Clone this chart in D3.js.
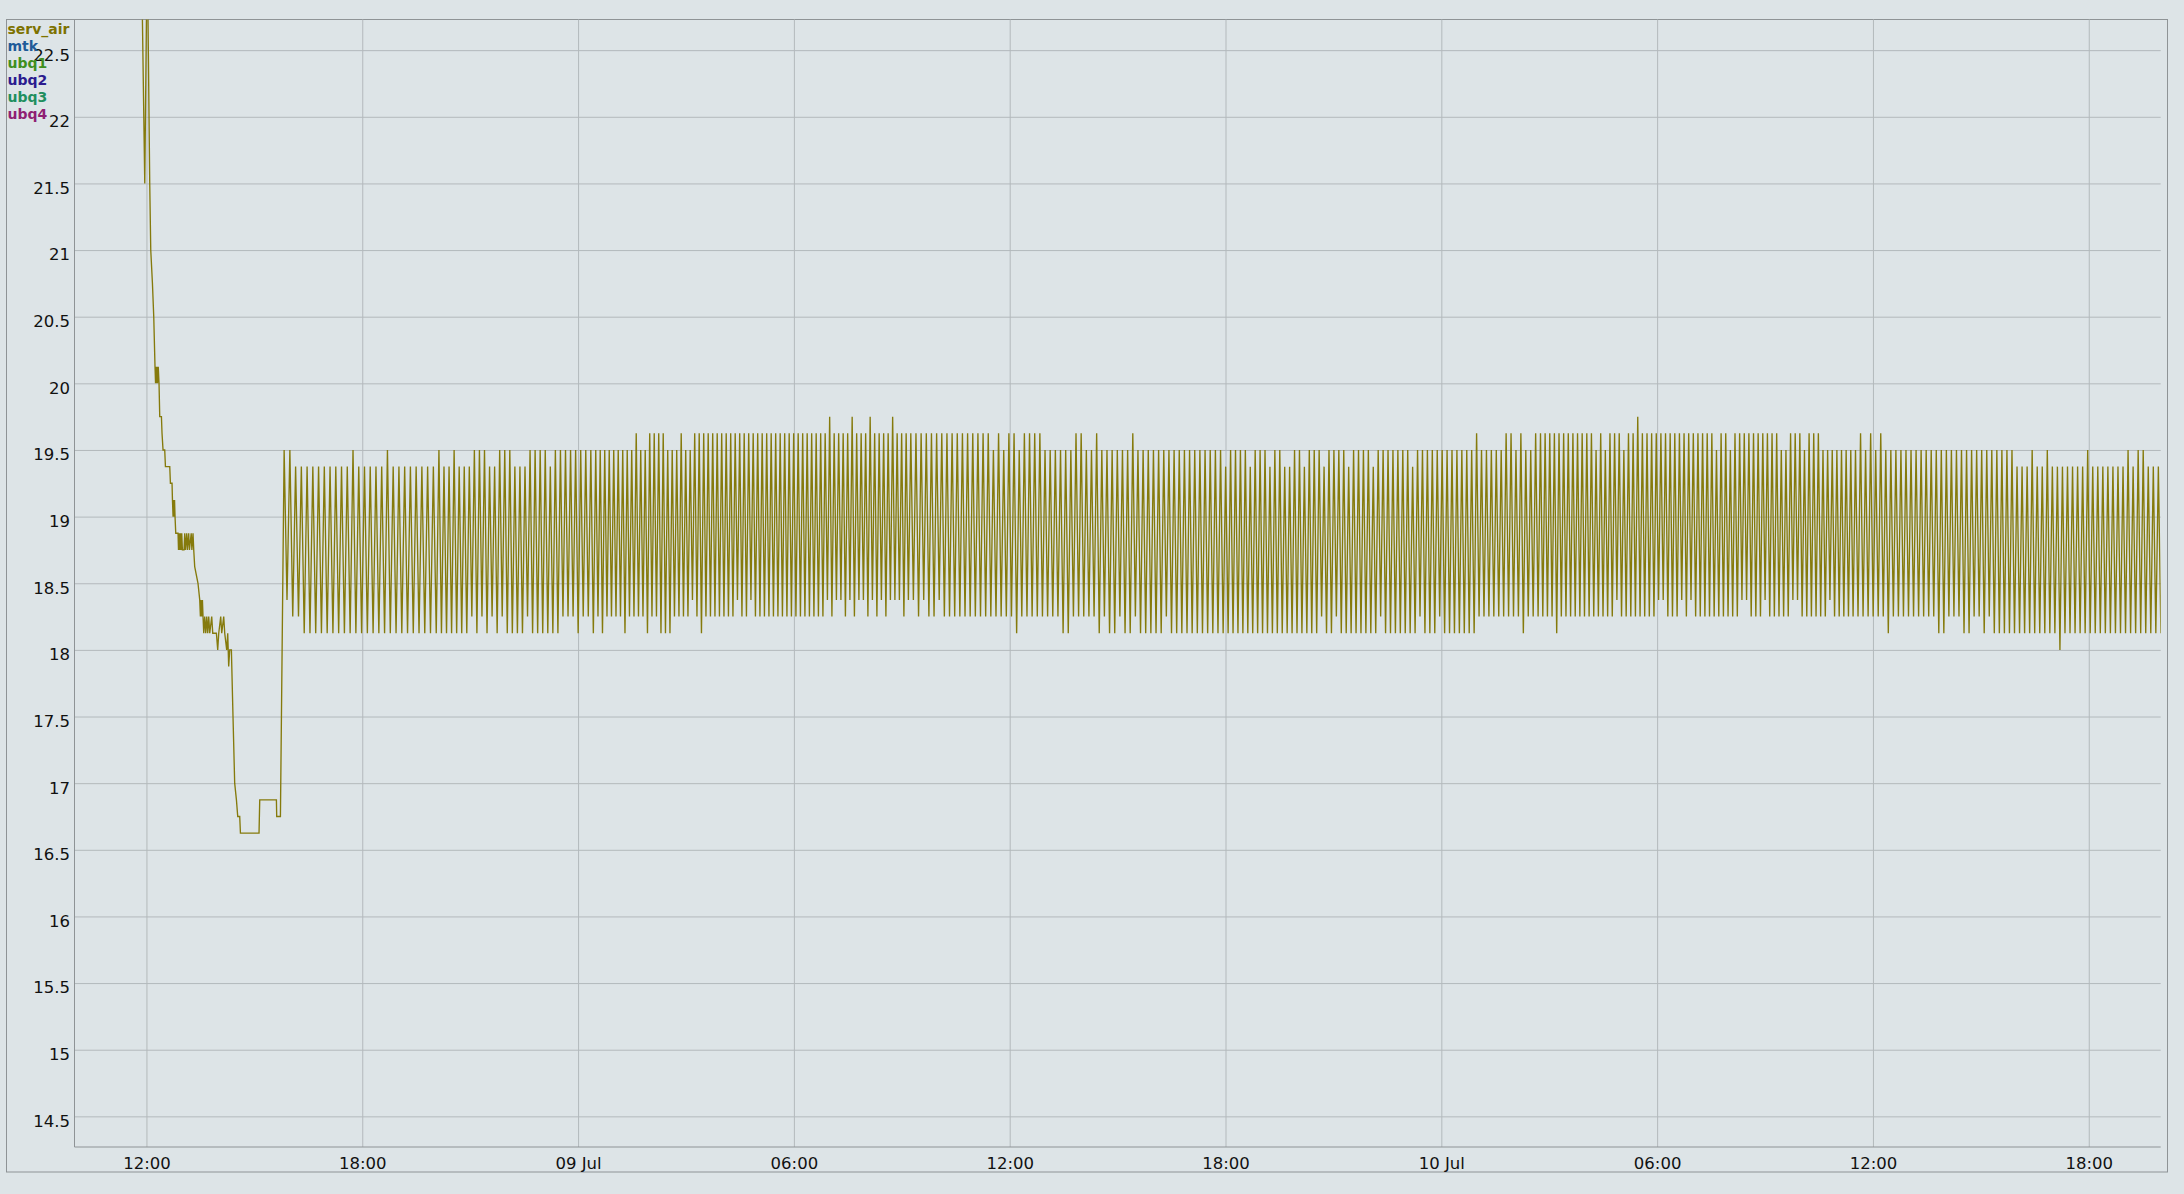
<!DOCTYPE html>
<html><head><meta charset="utf-8">
<script src="https://cdn.jsdelivr.net/npm/d3@7"></script>
<style>
html,body{margin:0;padding:0;background:#dde4e7;}
svg{display:block;}
text{font-family:"DejaVu Sans",Verdana,sans-serif;}
</style></head><body>
<svg id="chart" width="2184" height="1194"></svg>
<script>
// ---------- DATA ----------
const legendNames  = ["serv_air","mtk","ubq1","ubq2","ubq3","ubq4"];
const legendColors = ["#7d7200","#1f5b99","#3f8f1f","#2b1b8f","#1f8f5f","#8f1f73"];
const yTickValues  = [14.5,15,15.5,16,16.5,17,17.5,18,18.5,19,19.5,20,20.5,21,21.5,22,22.5];
const startDay = [2013, 6, 8];           // 8 Jul
const domainStartMin = 600;               // 08 Jul 10:00
const domainEndMin   = 4080;              // 10 Jul 20:00

// initial cool-down: [minutes after 08 Jul 00:00, °C]
const initPoints = [
 [710.5,23.6],[717.2,21.5],[721.3,23.3],[725.5,21.5],[727.2,21.0],[730.0,20.75],[732.2,20.5],
 [734.3,20.125],[735.2,20.0],[736.0,20.125],[736.8,20.0],[737.7,20.125],[738.5,20.0],[739.7,20.125],
 [741.0,20.0],[742.2,19.75],[745.0,19.75],[746.0,19.625],[747.7,19.5],[750.5,19.5],[751.7,19.375],
 [758.9,19.375],[760.0,19.25],[762.7,19.25],[763.4,19.125],[764.4,19.0],[765.2,19.125],[766.0,19.0],
 [766.9,19.125],[767.7,19.0],[768.9,18.875],[772.7,18.875],[773.5,18.75],[774.4,18.875],[775.5,18.75],
 [776.7,18.875],[777.7,18.75],[778.9,18.875],[780.0,18.75],[782.7,18.75],[783.9,18.875],[785.0,18.75],
 [787.2,18.875],[788.3,18.75],[790.5,18.875],[791.7,18.75],[794.7,18.875],[795.8,18.75],[797.7,18.875],
 [798.9,18.75],[800.5,18.625],[806.0,18.5],[808.9,18.375],[810.0,18.25],[811.0,18.375],[812.2,18.25],
 [813.4,18.375],[814.4,18.25],[815.6,18.125],[817.2,18.25],[818.9,18.125],[820.6,18.25],[822.2,18.125],
 [823.9,18.25],[825.6,18.125],[828.9,18.25],[830.6,18.125],[833.9,18.125],[836.7,18.125],[838.9,18.0],
 [840.6,18.125],[843.9,18.25],[845.6,18.125],[848.9,18.25],[850.6,18.125],[853.9,18.0],[855.6,18.125],
 [857.2,17.875],[858.9,18.0],[861.7,18.0],[864.4,17.5],[867.2,17.0],[870.1,16.875],[872.3,16.75],
 [875.6,16.75],[876.8,16.625],[907.8,16.625],[909.0,16.875],[936.8,16.875],[937.3,16.75],[943.5,16.75]
];

// thermostat cycling: segment boundaries (minutes after 08 Jul 00:00)
const segBounds = [947.3, 1205.8, 1467.6, 1992.9, 2518.2, 3043.5, 3568.8, 4082.4];
// peak / trough levels per segment, as [value, number of cycles]
const segPeaks = [
 [[19.5,2],[19.375,10],[19.5,1],[19.375,5],[19.5,1],[19.375,8]],
 [[19.5,1],[19.375,2],[19.5,1],[19.375,3],[19.5,3],[19.375,2],[19.5,3],[19.375,3],[19.5,4],[19.375,1],[19.5,8]],
 [[19.5,9],[19.625,1],[19.5,2],[19.625,4],[19.5,3],[19.625,1],[19.5,2],[19.625,30],[19.75,1],[19.625,4],[19.75,1],[19.625,3],[19.75,1],[19.625,4],[19.75,1],[19.625,3]],
 [[19.625,16],[19.5,1],[19.625,1],[19.5,1],[19.625,2],[19.5,1],[19.625,4],[19.5,6],[19.625,2],[19.5,2],[19.625,1],[19.5,6],[19.625,1],[19.5,17]],
 [[19.375,1],[19.5,4],[19.375,1],[19.5,3],[19.375,1],[19.5,2],[19.375,2],[19.5,2],[19.375,1],[19.5,3],[19.375,1],[19.5,4],[19.375,1],[19.5,4],[19.375,1],[19.5,7],[19.375,1],[19.5,12],[19.625,1],[19.5,5],[19.625,2],[19.5,1],[19.625,1],[19.5,2],[19.625,1]],
 [[19.625,12],[19.5,1],[19.625,1],[19.5,1],[19.625,3],[19.5,1],[19.625,2],[19.75,1],[19.625,16],[19.5,1],[19.625,2],[19.5,1],[19.625,10],[19.5,2],[19.625,3],[19.5,1],[19.625,3],[19.5,7]],
 [[19.5,1],[19.625,1],[19.5,1],[19.625,1],[19.5,1],[19.625,1],[19.5,26],[19.375,3],[19.5,1],[19.375,2],[19.5,1],[19.375,7],[19.5,1],[19.375,7],[19.5,1],[19.375,1],[19.5,2],[19.375,3]]
];
const segTroughs = [
 [[18.375,1],[18.25,2],[18.125,24]],
 [[18.125,6],[18.25,1],[18.125,1],[18.25,1],[18.125,1],[18.25,1],[18.125,1],[18.25,1],[18.125,4],[18.25,1],[18.125,6],[18.25,3],[18.125,1],[18.25,2],[18.125,1]],
 [[18.25,1],[18.125,1],[18.25,4],[18.125,1],[18.25,4],[18.125,1],[18.25,2],[18.125,3],[18.25,4],[18.375,1],[18.25,1],[18.125,1],[18.25,7],[18.375,1],[18.25,2],[18.375,1],[18.25,16],[18.375,1],[18.25,1],[18.375,2],[18.25,1],[18.375,1],[18.25,1],[18.375,2],[18.25,1],[18.375,1],[18.25,1],[18.375,1],[18.25,1],[18.375,3],[18.25,1],[18.375,1]],
 [[18.375,1],[18.25,1],[18.375,1],[18.25,2],[18.375,1],[18.25,14],[18.125,1],[18.25,8],[18.125,2],[18.25,5],[18.125,1],[18.25,1],[18.125,2],[18.25,1],[18.125,2],[18.25,1],[18.125,5],[18.25,1],[18.125,11]],
 [[18.125,19],[18.25,1],[18.125,2],[18.25,1],[18.125,8],[18.25,1],[18.125,7],[18.25,1],[18.125,3],[18.25,1],[18.125,7],[18.25,9],[18.125,1],[18.25,3]],
 [[18.25,3],[18.125,1],[18.25,12],[18.375,1],[18.25,8],[18.375,2],[18.25,3],[18.375,1],[18.25,1],[18.375,1],[18.25,10],[18.375,2],[18.25,3],[18.375,1],[18.25,5],[18.375,2],[18.25,6],[18.375,1],[18.25,5]],
 [[18.25,6],[18.125,1],[18.25,9],[18.125,2],[18.25,3],[18.125,2],[18.25,2],[18.125,1],[18.25,1],[18.125,13],[18,1],[18.125,20]]
];

// ---------- BUILD SERIES ----------
const base = new Date(startDay[0], startDay[1], startDay[2], 0, 0, 0);
const toDate = m => new Date(base.getTime() + m * 60000);
const expand = rle => rle.flatMap(([v, n]) => Array(n).fill(v));

const series = initPoints.map(([m, v]) => ({t: toDate(m), v}));
segPeaks.forEach((rle, s) => {
  const P = expand(rle), T = expand(segTroughs[s]);
  const S = segBounds[s], E = segBounds[s + 1], step = (E - S) / P.length;
  P.forEach((p, i) => {
    series.push({t: toDate(S + (i + 0.25) * step), v: p});
    series.push({t: toDate(S + (i + 0.75) * step), v: T[i]});
  });
});

// ---------- LAYOUT ----------
const L = 74.5, R = 2160.7, T0 = 19.5, B = 1147;
const svg = d3.select("#chart");

const x = d3.scaleTime().domain([toDate(domainStartMin), toDate(domainEndMin)]).range([L, R]);
const y = d3.scaleLinear().domain([14.27, 22.73]).range([B, T0]);

// outer frame
svg.append("rect").attr("x", 6.5).attr("y", T0).attr("width", 2161).attr("height", 1172 - T0)
  .attr("fill", "#dde4e7").attr("stroke", "#8e9396").attr("stroke-width", 1);

// y grid + labels
const yAxis = svg.append("g").attr("transform", `translate(${L},0)`)
  .call(d3.axisLeft(y).tickValues(yTickValues).tickFormat(d3.format("~g"))
        .tickSize(-(R - L)).tickPadding(4.5));
yAxis.select(".domain").remove();
yAxis.selectAll("line").attr("stroke", "#b3b9bc").attr("stroke-width", 1);
yAxis.selectAll("text").attr("dy", "0.6em").attr("fill", "#111")
  .style("font-size", "16.5px").style("font-family", '"DejaVu Sans",Verdana,sans-serif');

// x grid + labels
const fmt = d => d.getHours() === 0 ? d3.timeFormat("%d %b")(d) : d3.timeFormat("%H:%M")(d);
const xAxis = svg.append("g").attr("transform", `translate(0,${B})`)
  .call(d3.axisBottom(x).ticks(d3.timeHour.every(6)).tickFormat(fmt)
        .tickSize(-(B - T0)).tickPadding(10));
xAxis.select(".domain").remove();
xAxis.selectAll("line").attr("stroke", "#b3b9bc").attr("stroke-width", 1);
xAxis.selectAll("text").attr("fill", "#111")
  .style("font-size", "16.5px").style("font-family", '"DejaVu Sans",Verdana,sans-serif');

// plot borders
svg.append("line").attr("x1", L).attr("x2", L).attr("y1", T0).attr("y2", B).attr("stroke", "#8e9396");
svg.append("line").attr("x1", L).attr("x2", R).attr("y1", B).attr("y2", B).attr("stroke", "#8e9396");

// clip
svg.append("clipPath").attr("id", "clip").append("rect")
  .attr("x", L).attr("y", T0).attr("width", R - L).attr("height", B - T0);

// data line
svg.append("path").datum(series)
  .attr("clip-path", "url(#clip)")
  .attr("fill", "none").attr("stroke", "#857a0c").attr("stroke-width", 1.35)
  .attr("stroke-linejoin", "miter")
  .attr("d", d3.line().x(d => x(d.t)).y(d => y(d.v)));

// legend
svg.append("g").selectAll("text").data(legendNames).join("text")
  .attr("x", 7.5).attr("y", (d, i) => 34 + i * 17)
  .attr("fill", (d, i) => legendColors[i])
  .style("font-size", "14px").style("font-weight", "bold")
  .text(d => d);
</script>
</body></html>
